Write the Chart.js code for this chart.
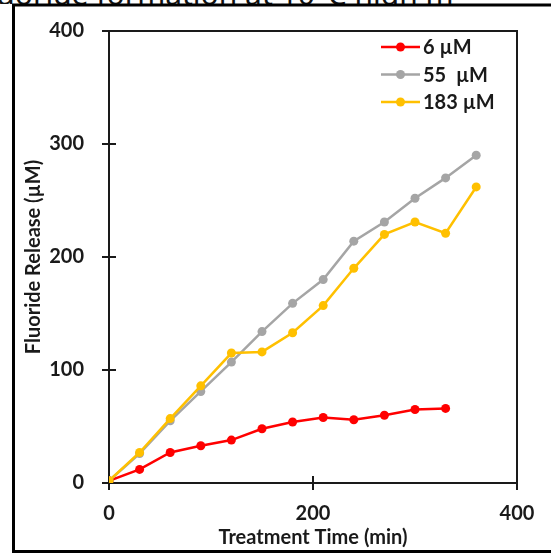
<!DOCTYPE html>
<html>
<head>
<meta charset="utf-8">
<title>Fluoride Release</title>
<script src="https://cdn.jsdelivr.net/npm/chart.js@4"></script>
<style>
  html, body { margin: 0; padding: 0; background: #fff; }
  #wrap { position: relative; width: 551px; height: 554px; overflow: hidden; }
  #heading {
    position: absolute; left: -27px; top: 0; height: 4px; overflow: hidden; margin: 0;
    width: 620px;
  }
  #heading span {
    position: absolute; left: 0; bottom: -5px; white-space: nowrap; line-height: 30px;
    font: 30px/30px "Noto Sans", sans-serif; color: #111;
  }
  #chart { position: absolute; left: 0; top: 0; }
</style>
</head>
<body>
<div id="wrap">
  <p id="heading"><span>Fluoride formation at 10°C high m</span></p>
  <canvas id="chart" width="551" height="554"></canvas>
</div>
<script>
'use strict';

// ── Data ──────────────────────────────────────────────────────
const TIMES      = [0, 30, 60, 90, 120, 150, 180, 210, 240, 270, 300, 330, 360];
const LABELS     = ['6 µM', '55  µM', '183 µM'];
const RELEASE_6   = [2, 12, 27, 33, 38, 48, 54, 58, 56, 60, 65, 66];
const RELEASE_55  = [2, 26, 55, 81, 107, 134, 159, 180, 214, 231, 252, 270, 290];
const RELEASE_183 = [2, 27, 57, 86, 115, 116, 133, 157, 190, 220, 231, 221, 262];
const X_TICKS    = [0, 200, 400];
const Y_TICKS    = [0, 100, 200, 300, 400];

const COLORS = ['#ff0000', '#a5a5a5', '#ffc000'];
const FONT   = 'Lato, "Open Sans", sans-serif';
const INK    = '#1a1a1a';

function points(values) {
  return values.map((v, i) => ({ x: TIMES[i], y: v }));
}

function series(idx, values, order) {
  return {
    label: LABELS[idx],
    data: points(values),
    borderColor: COLORS[idx],
    backgroundColor: COLORS[idx],
    pointBackgroundColor: COLORS[idx],
    pointBorderColor: COLORS[idx],
    borderWidth: 2.5,
    pointRadius: 4.5,
    pointBorderWidth: 0,
    tension: 0,
    order,
  };
}

// ── Frame, crossing ticks and legend ──────────────────────────
const framePlugin = {
  id: 'frame',
  beforeDatasetsDraw(chart) {
    const { ctx, chartArea: a, scales } = chart;
    ctx.save();
    ctx.strokeStyle = INK;
    ctx.lineWidth = 2;
    ctx.strokeRect(a.left, a.top, a.right - a.left, a.bottom - a.top);

    ctx.beginPath();
    Y_TICKS.forEach((t) => {
      const y = Math.round(scales.y.getPixelForValue(t));
      ctx.moveTo(a.left - 7, y);
      ctx.lineTo(t === 0 || t === 400 ? a.left : a.left + 7, y);
    });
    X_TICKS.forEach((t) => {
      const x = Math.round(scales.x.getPixelForValue(t));
      ctx.moveTo(x, a.bottom + 7);
      ctx.lineTo(x, t === 200 ? a.bottom - 7 : a.bottom);
    });
    ctx.stroke();

    // outer border round the figure
    ctx.lineWidth = 3;
    ctx.strokeStyle = '#000';
    ctx.beginPath();
    ctx.moveTo(600, 5);
    ctx.lineTo(13.5, 5);
    ctx.lineTo(13.5, 551.5);
    ctx.lineTo(600, 551.5);
    ctx.stroke();
    ctx.restore();
  },
  afterDraw(chart) {
    const { ctx } = chart;
    ctx.save();
    ctx.font = `bold 20px ${FONT}`;
    ctx.textBaseline = 'middle';
    chart.data.datasets.forEach((ds, i) => {
      const y = 47 + i * 27.5;
      ctx.strokeStyle = ds.borderColor;
      ctx.lineWidth = 2.5;
      ctx.beginPath();
      ctx.moveTo(381, y);
      ctx.lineTo(420, y);
      ctx.stroke();
      ctx.fillStyle = ds.borderColor;
      ctx.beginPath();
      ctx.arc(400.5, y, 4.5, 0, Math.PI * 2);
      ctx.fill();
      ctx.fillStyle = INK;
      ctx.fillText(ds.label, 423, y + 1);
    });
    ctx.restore();
  },
};

// ── Chart ─────────────────────────────────────────────────────
new Chart(document.getElementById('chart').getContext('2d'), {
  type: 'line',
  data: {
    datasets: [
      series(0, RELEASE_6, 2),
      series(1, RELEASE_55, 1),
      series(2, RELEASE_183, 0),
    ],
  },
  options: {
    responsive: false,
    animation: false,
    layout: { padding: { left: 0, top: 31, right: 34, bottom: 0 } },
    plugins: { legend: { display: false }, tooltip: { enabled: false } },
    scales: {
      x: {
        type: 'linear',
        min: 0,
        max: 400,
        afterFit: (s) => { s.height = 71; s.paddingLeft = 0; s.paddingRight = 0; },
        afterBuildTicks: (s) => { s.ticks = X_TICKS.map((v) => ({ value: v })); },
        grid: { display: false, drawTicks: false },
        border: { display: false },
        ticks: { padding: 19, color: INK, font: { family: FONT, size: 20, weight: 'bold' } },
        title: {
          display: true,
          text: 'Treatment Time (min)',
          color: INK,
          padding: { top: 0, bottom: 4 },
          font: { family: FONT, size: 20, weight: 'bold' },
        },
      },
      y: {
        min: 0,
        max: 400,
        afterFit: (s) => { s.width = 109; s.paddingTop = 0; s.paddingBottom = 0; },
        afterBuildTicks: (s) => { s.ticks = Y_TICKS.map((v) => ({ value: v })); },
        grid: { display: false, drawTicks: false },
        border: { display: false },
        ticks: { padding: 25, color: INK, font: { family: FONT, size: 20, weight: 'bold' } },
        title: {
          display: true,
          text: 'Fluoride Release (µM)',
          color: INK,
          padding: { top: 22, bottom: 0 },
          font: { family: FONT, size: 20, weight: 'bold' },
        },
      },
    },
  },
  plugins: [framePlugin],
});
</script>
</body>
</html>
